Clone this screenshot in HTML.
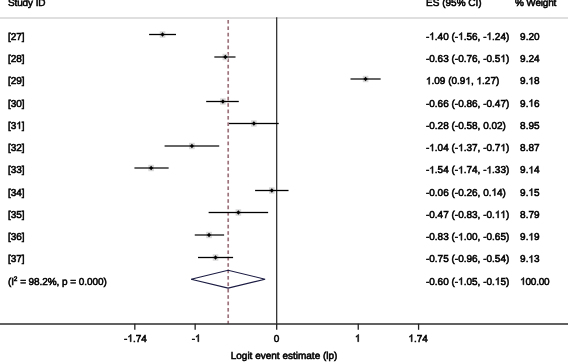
<!DOCTYPE html>
<html><head><meta charset="utf-8"><style>
html,body{margin:0;padding:0;background:#fff;}
body{width:568px;height:362px;overflow:hidden;}
svg{display:block;}
text{font-family:"Liberation Sans",sans-serif;font-size:10.0px;font-kerning:none;text-rendering:geometricPrecision;fill:#000;stroke:#000;stroke-width:0.55px;}
.tx{filter:grayscale(1);}
.o{fill:transparent;stroke:none;}
.one{fill:#000;stroke:#000;stroke-width:0.55px;vector-effect:non-scaling-stroke;}
</style></head><body>
<svg width="568" height="362" viewBox="0 0 568 362">
<defs><filter id="bl" x="-50%" y="-50%" width="200%" height="200%"><feGaussianBlur stdDeviation="0.7"/></filter></defs>
<line x1="0" y1="18" x2="568" y2="18" stroke="#d4d4d4" stroke-width="1.6"/>
<line x1="228.15" y1="20" x2="228.15" y2="323.5" stroke="#d06a78" stroke-opacity="0.3" stroke-width="2.0" stroke-dasharray="3.6 2.8"/>
<line x1="228.15" y1="20" x2="228.15" y2="323.5" stroke="#6c424e" stroke-width="1.0" stroke-dasharray="3.6 2.8"/>
<line x1="276.7" y1="17.3" x2="276.7" y2="323.5" stroke="#222" stroke-width="1.2"/>
<rect x="159.74" y="31.30" width="5.6" height="6.4" fill="#d8d8d8" filter="url(#bl)"/>
<rect x="149.10" y="34" width="26.89" height="1" fill="#000"/>
<rect x="149.10" y="33" width="26.89" height="1" fill="#000" fill-opacity="0.15"/>
<rect x="149.10" y="35" width="26.89" height="1" fill="#000" fill-opacity="0.15"/>
<path d="M160.54 34.50L162.54 32.20L164.54 34.50L162.54 36.80Z" fill="#000"/>
<rect x="222.53" y="53.80" width="5.6" height="6.4" fill="#d8d8d8" filter="url(#bl)"/>
<rect x="214.33" y="56" width="21.19" height="1" fill="#000" fill-opacity="0.6"/>
<rect x="214.33" y="57" width="21.19" height="1" fill="#000" fill-opacity="0.6"/>
<path d="M223.33 57.00L225.33 54.70L227.33 57.00L225.33 59.30Z" fill="#000"/>
<rect x="362.78" y="75.80" width="5.6" height="6.4" fill="#d8d8d8" filter="url(#bl)"/>
<rect x="350.50" y="78" width="30.15" height="1" fill="#000" fill-opacity="0.6"/>
<rect x="350.50" y="79" width="30.15" height="1" fill="#000" fill-opacity="0.6"/>
<path d="M363.58 79.00L365.58 76.70L367.58 79.00L365.58 81.30Z" fill="#000"/>
<rect x="220.08" y="98.30" width="5.6" height="6.4" fill="#d8d8d8" filter="url(#bl)"/>
<rect x="206.18" y="101" width="32.60" height="1" fill="#000"/>
<rect x="206.18" y="100" width="32.60" height="1" fill="#000" fill-opacity="0.15"/>
<rect x="206.18" y="102" width="32.60" height="1" fill="#000" fill-opacity="0.15"/>
<path d="M220.88 101.50L222.88 99.20L224.88 101.50L222.88 103.80Z" fill="#000"/>
<rect x="251.07" y="120.30" width="5.6" height="6.4" fill="#d8d8d8" filter="url(#bl)"/>
<rect x="229.01" y="123" width="49.72" height="1" fill="#000"/>
<rect x="229.01" y="122" width="49.72" height="1" fill="#000" fill-opacity="0.15"/>
<rect x="229.01" y="124" width="49.72" height="1" fill="#000" fill-opacity="0.15"/>
<path d="M251.87 123.50L253.87 121.20L255.87 123.50L253.87 125.80Z" fill="#000"/>
<rect x="189.10" y="142.80" width="5.6" height="6.4" fill="#d8d8d8" filter="url(#bl)"/>
<rect x="164.59" y="145" width="54.62" height="1" fill="#000" fill-opacity="0.6"/>
<rect x="164.59" y="146" width="54.62" height="1" fill="#000" fill-opacity="0.6"/>
<path d="M189.90 146.00L191.90 143.70L193.90 146.00L191.90 148.30Z" fill="#000"/>
<rect x="148.33" y="164.80" width="5.6" height="6.4" fill="#d8d8d8" filter="url(#bl)"/>
<rect x="134.42" y="167" width="34.23" height="1" fill="#000" fill-opacity="0.6"/>
<rect x="134.42" y="168" width="34.23" height="1" fill="#000" fill-opacity="0.6"/>
<path d="M149.13 168.00L151.13 165.70L153.13 168.00L151.13 170.30Z" fill="#000"/>
<rect x="269.01" y="187.30" width="5.6" height="6.4" fill="#d8d8d8" filter="url(#bl)"/>
<rect x="255.10" y="190" width="33.42" height="1" fill="#000"/>
<rect x="255.10" y="189" width="33.42" height="1" fill="#000" fill-opacity="0.15"/>
<rect x="255.10" y="191" width="33.42" height="1" fill="#000" fill-opacity="0.15"/>
<path d="M269.81 190.50L271.81 188.20L273.81 190.50L271.81 192.80Z" fill="#000"/>
<rect x="235.58" y="209.30" width="5.6" height="6.4" fill="#d8d8d8" filter="url(#bl)"/>
<rect x="208.62" y="212" width="59.51" height="1" fill="#000"/>
<rect x="208.62" y="211" width="59.51" height="1" fill="#000" fill-opacity="0.15"/>
<rect x="208.62" y="213" width="59.51" height="1" fill="#000" fill-opacity="0.15"/>
<path d="M236.38 212.50L238.38 210.20L240.38 212.50L238.38 214.80Z" fill="#000"/>
<rect x="206.22" y="231.80" width="5.6" height="6.4" fill="#d8d8d8" filter="url(#bl)"/>
<rect x="194.76" y="234" width="29.34" height="1" fill="#000" fill-opacity="0.6"/>
<rect x="194.76" y="235" width="29.34" height="1" fill="#000" fill-opacity="0.6"/>
<path d="M207.02 235.00L209.02 232.70L211.02 235.00L209.02 237.30Z" fill="#000"/>
<rect x="212.74" y="254.30" width="5.6" height="6.4" fill="#d8d8d8" filter="url(#bl)"/>
<rect x="198.02" y="257" width="35.05" height="1" fill="#000"/>
<rect x="198.02" y="256" width="35.05" height="1" fill="#000" fill-opacity="0.15"/>
<rect x="198.02" y="258" width="35.05" height="1" fill="#000" fill-opacity="0.15"/>
<path d="M213.54 257.50L215.54 255.20L217.54 257.50L215.54 259.80Z" fill="#000"/>
<path d="M191.10 279.20L228.10 270.30L265.10 279.20L228.10 288.10Z" fill="none" stroke="#1a1a42" stroke-width="1.1"/>
<rect x="0" y="323" width="568" height="2" fill="#000" fill-opacity="0.62"/>
<line x1="134.82" y1="323.8" x2="134.82" y2="329.8" stroke="#222" stroke-width="1.3"/>
<line x1="195.16" y1="323.8" x2="195.16" y2="329.8" stroke="#222" stroke-width="1.3"/>
<line x1="276.70" y1="323.8" x2="276.70" y2="329.8" stroke="#222" stroke-width="1.3"/>
<line x1="358.24" y1="323.8" x2="358.24" y2="329.8" stroke="#222" stroke-width="1.3"/>
<line x1="418.58" y1="323.8" x2="418.58" y2="329.8" stroke="#222" stroke-width="1.3"/>
<g class="tx">
<text transform="translate(7.90 6.20) scale(1 1.0)" textLength="37.65">Study ID</text>
<text transform="translate(426.10 6.20) scale(1 1.0)">ES (95% CI)</text>
<text transform="translate(515.00 6.20) scale(1 1.0)" textLength="41.29">% Weight</text>
<text transform="translate(7.90 39.75) scale(1 1.0)">[27]</text>
<text transform="translate(425.90 39.75) scale(1 1.0)">-<tspan class="o">1</tspan>.40 (-<tspan class="o">1</tspan>.56, -<tspan class="o">1</tspan>.24)</text>
<text transform="translate(520.10 39.75) scale(1 1.0)">9.20</text>
<text transform="translate(7.90 62.02) scale(1 1.0)">[28]</text>
<text transform="translate(425.90 62.02) scale(1 1.0)">-0.63 (-0.76, -0.5<tspan class="o">1</tspan>)</text>
<text transform="translate(520.10 62.02) scale(1 1.0)">9.24</text>
<text transform="translate(7.90 84.29) scale(1 1.0)">[29]</text>
<text transform="translate(425.90 84.29) scale(1 1.0)"><tspan class="o">1</tspan>.09 (0.9<tspan class="o">1</tspan>, <tspan class="o">1</tspan>.27)</text>
<text transform="translate(520.10 84.29) scale(1 1.0)">9.<tspan class="o">1</tspan>8</text>
<text transform="translate(7.90 106.56) scale(1 1.0)">[30]</text>
<text transform="translate(425.90 106.56) scale(1 1.0)">-0.66 (-0.86, -0.47)</text>
<text transform="translate(520.10 106.56) scale(1 1.0)">9.<tspan class="o">1</tspan>6</text>
<text transform="translate(7.90 128.83) scale(1 1.0)">[3<tspan class="o">1</tspan>]</text>
<text transform="translate(425.90 128.83) scale(1 1.0)">-0.28 (-0.58, 0.02)</text>
<text transform="translate(520.10 128.83) scale(1 1.0)">8.95</text>
<text transform="translate(7.90 151.10) scale(1 1.0)">[32]</text>
<text transform="translate(425.90 151.10) scale(1 1.0)">-<tspan class="o">1</tspan>.04 (-<tspan class="o">1</tspan>.37, -0.7<tspan class="o">1</tspan>)</text>
<text transform="translate(520.10 151.10) scale(1 1.0)">8.87</text>
<text transform="translate(7.90 173.37) scale(1 1.0)">[33]</text>
<text transform="translate(425.90 173.37) scale(1 1.0)">-<tspan class="o">1</tspan>.54 (-<tspan class="o">1</tspan>.74, -<tspan class="o">1</tspan>.33)</text>
<text transform="translate(520.10 173.37) scale(1 1.0)">9.<tspan class="o">1</tspan>4</text>
<text transform="translate(7.90 195.64) scale(1 1.0)">[34]</text>
<text transform="translate(425.90 195.64) scale(1 1.0)">-0.06 (-0.26, 0.<tspan class="o">1</tspan>4)</text>
<text transform="translate(520.10 195.64) scale(1 1.0)">9.<tspan class="o">1</tspan>5</text>
<text transform="translate(7.90 217.91) scale(1 1.0)">[35]</text>
<text transform="translate(425.90 217.91) scale(1 1.0)">-0.47 (-0.83, -0.<tspan class="o">1</tspan><tspan class="o">1</tspan>)</text>
<text transform="translate(520.10 217.91) scale(1 1.0)">8.79</text>
<text transform="translate(7.90 240.18) scale(1 1.0)">[36]</text>
<text transform="translate(425.90 240.18) scale(1 1.0)">-0.83 (-<tspan class="o">1</tspan>.00, -0.65)</text>
<text transform="translate(520.10 240.18) scale(1 1.0)">9.<tspan class="o">1</tspan>9</text>
<text transform="translate(7.90 262.45) scale(1 1.0)">[37]</text>
<text transform="translate(425.90 262.45) scale(1 1.0)">-0.75 (-0.96, -0.54)</text>
<text transform="translate(520.10 262.45) scale(1 1.0)">9.<tspan class="o">1</tspan>3</text>
<text transform="translate(7.90 284.72) scale(1 1.0)" textLength="98.84">(I<tspan font-size="6.5" dy="-3.6">2</tspan><tspan dy="3.6"> = 98.2%, p = 0.000)</tspan></text>
<text transform="translate(425.90 284.72) scale(1 1.0)">-0.60 (-<tspan class="o">1</tspan>.05, -0.<tspan class="o">1</tspan>5)</text>
<text transform="translate(520.10 284.72) scale(1 1.0)" textLength="29.59"><tspan class="o">1</tspan>00.00</text>
<text transform="translate(124.06 341.70) scale(1 1.0)">-<tspan class="o">1</tspan>.74</text>
<text transform="translate(191.66 341.70) scale(1 1.0)">-<tspan class="o">1</tspan></text>
<text transform="translate(273.80 341.70) scale(1 1.0)">0</text>
<text transform="translate(354.90 341.70) scale(1 1.0)"><tspan class="o">1</tspan></text>
<text transform="translate(408.40 341.70) scale(1 1.0)"><tspan class="o">1</tspan>.74</text>
<text transform="translate(230.70 359.20) scale(1 1.0)">Logit event estimate (lp)</text>
<g><path class="one" transform="translate(429.244 39.750) scale(0.004883 -0.004883)" d="M763 0H583V1147Q518 1085 412 1023Q306 961 222 930V1104Q373 1175 486 1276Q599 1377 646 1472H763Z"/><path class="one" transform="translate(458.150 39.750) scale(0.004883 -0.004883)" d="M763 0H583V1147Q518 1085 412 1023Q306 961 222 930V1104Q373 1175 486 1276Q599 1377 646 1472H763Z"/><path class="one" transform="translate(486.509 39.750) scale(0.004883 -0.004883)" d="M763 0H583V1147Q518 1085 412 1023Q306 961 222 930V1104Q373 1175 486 1276Q599 1377 646 1472H763Z"/><path class="one" transform="translate(500.384 62.020) scale(0.004883 -0.004883)" d="M763 0H583V1147Q518 1085 412 1023Q306 961 222 930V1104Q373 1175 486 1276Q599 1377 646 1472H763Z"/><path class="one" transform="translate(425.900 84.290) scale(0.004883 -0.004883)" d="M763 0H583V1147Q518 1085 412 1023Q306 961 222 930V1104Q373 1175 486 1276Q599 1377 646 1472H763Z"/><path class="one" transform="translate(465.384 84.290) scale(0.004883 -0.004883)" d="M763 0H583V1147Q518 1085 412 1023Q306 961 222 930V1104Q373 1175 486 1276Q599 1377 646 1472H763Z"/><path class="one" transform="translate(476.509 84.290) scale(0.004883 -0.004883)" d="M763 0H583V1147Q518 1085 412 1023Q306 961 222 930V1104Q373 1175 486 1276Q599 1377 646 1472H763Z"/><path class="one" transform="translate(528.444 84.290) scale(0.004883 -0.004883)" d="M763 0H583V1147Q518 1085 412 1023Q306 961 222 930V1104Q373 1175 486 1276Q599 1377 646 1472H763Z"/><path class="one" transform="translate(528.444 106.560) scale(0.004883 -0.004883)" d="M763 0H583V1147Q518 1085 412 1023Q306 961 222 930V1104Q373 1175 486 1276Q599 1377 646 1472H763Z"/><path class="one" transform="translate(16.244 128.830) scale(0.004883 -0.004883)" d="M763 0H583V1147Q518 1085 412 1023Q306 961 222 930V1104Q373 1175 486 1276Q599 1377 646 1472H763Z"/><path class="one" transform="translate(429.244 151.100) scale(0.004883 -0.004883)" d="M763 0H583V1147Q518 1085 412 1023Q306 961 222 930V1104Q373 1175 486 1276Q599 1377 646 1472H763Z"/><path class="one" transform="translate(458.150 151.100) scale(0.004883 -0.004883)" d="M763 0H583V1147Q518 1085 412 1023Q306 961 222 930V1104Q373 1175 486 1276Q599 1377 646 1472H763Z"/><path class="one" transform="translate(500.416 151.100) scale(0.004883 -0.004883)" d="M763 0H583V1147Q518 1085 412 1023Q306 961 222 930V1104Q373 1175 486 1276Q599 1377 646 1472H763Z"/><path class="one" transform="translate(429.244 173.370) scale(0.004883 -0.004883)" d="M763 0H583V1147Q518 1085 412 1023Q306 961 222 930V1104Q373 1175 486 1276Q599 1377 646 1472H763Z"/><path class="one" transform="translate(458.150 173.370) scale(0.004883 -0.004883)" d="M763 0H583V1147Q518 1085 412 1023Q306 961 222 930V1104Q373 1175 486 1276Q599 1377 646 1472H763Z"/><path class="one" transform="translate(486.509 173.370) scale(0.004883 -0.004883)" d="M763 0H583V1147Q518 1085 412 1023Q306 961 222 930V1104Q373 1175 486 1276Q599 1377 646 1472H763Z"/><path class="one" transform="translate(528.444 173.370) scale(0.004883 -0.004883)" d="M763 0H583V1147Q518 1085 412 1023Q306 961 222 930V1104Q373 1175 486 1276Q599 1377 646 1472H763Z"/><path class="one" transform="translate(491.494 195.640) scale(0.004883 -0.004883)" d="M763 0H583V1147Q518 1085 412 1023Q306 961 222 930V1104Q373 1175 486 1276Q599 1377 646 1472H763Z"/><path class="one" transform="translate(528.444 195.640) scale(0.004883 -0.004883)" d="M763 0H583V1147Q518 1085 412 1023Q306 961 222 930V1104Q373 1175 486 1276Q599 1377 646 1472H763Z"/><path class="one" transform="translate(494.822 217.910) scale(0.004883 -0.004883)" d="M763 0H583V1147Q518 1085 412 1023Q306 961 222 930V1104Q373 1175 486 1276Q599 1377 646 1472H763Z"/><path class="one" transform="translate(500.384 217.910) scale(0.004883 -0.004883)" d="M763 0H583V1147Q518 1085 412 1023Q306 961 222 930V1104Q373 1175 486 1276Q599 1377 646 1472H763Z"/><path class="one" transform="translate(458.134 240.180) scale(0.004883 -0.004883)" d="M763 0H583V1147Q518 1085 412 1023Q306 961 222 930V1104Q373 1175 486 1276Q599 1377 646 1472H763Z"/><path class="one" transform="translate(528.444 240.180) scale(0.004883 -0.004883)" d="M763 0H583V1147Q518 1085 412 1023Q306 961 222 930V1104Q373 1175 486 1276Q599 1377 646 1472H763Z"/><path class="one" transform="translate(528.444 262.450) scale(0.004883 -0.004883)" d="M763 0H583V1147Q518 1085 412 1023Q306 961 222 930V1104Q373 1175 486 1276Q599 1377 646 1472H763Z"/><path class="one" transform="translate(458.134 284.720) scale(0.004883 -0.004883)" d="M763 0H583V1147Q518 1085 412 1023Q306 961 222 930V1104Q373 1175 486 1276Q599 1377 646 1472H763Z"/><path class="one" transform="translate(494.837 284.720) scale(0.004883 -0.004883)" d="M763 0H583V1147Q518 1085 412 1023Q306 961 222 930V1104Q373 1175 486 1276Q599 1377 646 1472H763Z"/><path class="one" transform="translate(520.100 284.720) scale(0.004883 -0.004883)" d="M763 0H583V1147Q518 1085 412 1023Q306 961 222 930V1104Q373 1175 486 1276Q599 1377 646 1472H763Z"/><path class="one" transform="translate(127.404 341.700) scale(0.004883 -0.004883)" d="M763 0H583V1147Q518 1085 412 1023Q306 961 222 930V1104Q373 1175 486 1276Q599 1377 646 1472H763Z"/><path class="one" transform="translate(195.004 341.700) scale(0.004883 -0.004883)" d="M763 0H583V1147Q518 1085 412 1023Q306 961 222 930V1104Q373 1175 486 1276Q599 1377 646 1472H763Z"/><path class="one" transform="translate(354.900 341.700) scale(0.004883 -0.004883)" d="M763 0H583V1147Q518 1085 412 1023Q306 961 222 930V1104Q373 1175 486 1276Q599 1377 646 1472H763Z"/><path class="one" transform="translate(408.400 341.700) scale(0.004883 -0.004883)" d="M763 0H583V1147Q518 1085 412 1023Q306 961 222 930V1104Q373 1175 486 1276Q599 1377 646 1472H763Z"/></g>
</g>

</svg>
</body></html>
